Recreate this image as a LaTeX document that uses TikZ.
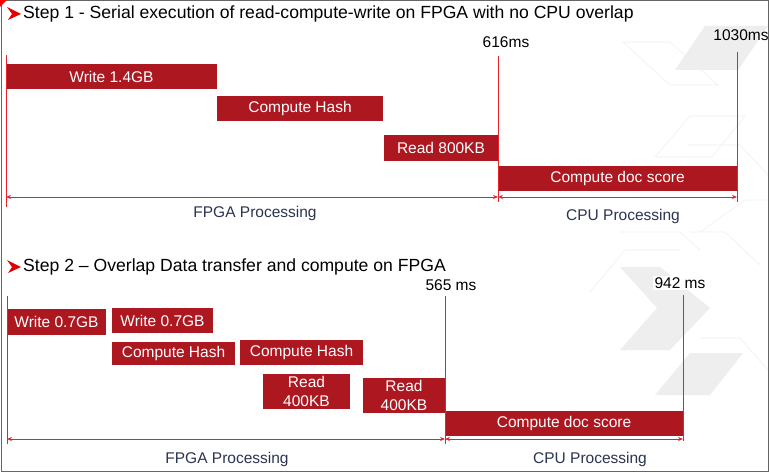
\documentclass[tikz,border=0pt]{standalone}
\usepackage{fontspec}
\setmainfont{Liberation Sans}
\usetikzlibrary{arrows.meta}
\definecolor{barred}{HTML}{AD1720}
\definecolor{linered}{HTML}{E8222A}
\definecolor{navy}{HTML}{2B3452}
\definecolor{bgshape}{HTML}{EEEEEE}
\definecolor{bgline}{HTML}{F0F0F0}
\begin{document}
\begin{tikzpicture}[x=1pt,y=-1pt,
  txt/.style={font=\fontsize{15.5}{17}\selectfont, inner sep=0pt},
  titletxt/.style={font=\fontsize{17.6}{19}\selectfont, inner sep=0pt, text=black},
  bar/.style={txt, fill=barred, text=white, anchor=north west, align=center, outer sep=0pt},
  timelabel/.style={txt, text=black},
  proclabel/.style={txt, text=navy},
  vline/.style={draw=linered, line width=0.9pt},
  span/.style={draw=linered, line width=0.8pt, {Stealth[length=5pt,width=4pt]}-{Stealth[length=5pt,width=4pt]}},
  bullet/.style={fill=red!90!black, draw=none}
]
\useasboundingbox (0,0) rectangle (770,473);
\fill[white] (0,0) rectangle (770,473);
% background decoration
\fill[bgshape] (675,70) -- (705,26) -- (768,26) -- (738,70) -- cycle;
\draw[bgline, line width=0.6pt] (623,42) -- (670,42) -- (718,85) -- (670,85) -- cycle;
\draw[bgline, line width=0.6pt] (655,157) -- (690,116) -- (745,116) -- (712,157) -- cycle;
\draw[bgline, line width=0.6pt] (688,145) -- (740,145) -- (768,175);
\draw[bgline, line width=0.6pt] (700,232) -- (745,200) -- (768,200);
\draw[bgline, line width=0.6pt] (620,232) -- (680,232) -- (700,250);
\fill[bgshape] (620,267) -- (660,267) -- (710,308) -- (670,350) -- (620,350) -- (657,308) -- cycle;
\fill[bgshape] (655,395) -- (690,353) -- (743,353) -- (710,395) -- cycle;
\draw[bgline, line width=0.6pt] (590,292) -- (625,250) -- (680,250);
\draw[bgline, line width=0.6pt] (700,338) -- (740,338) -- (768,370);
\draw[bgline, line width=0.6pt] (690,232) -- (725,232) -- (760,265);
% frame
\draw[gray!80!black, line width=1pt] (1,1) rectangle (768,471);
\fill[red] (0,0) -- (7,0) -- (0,7) -- cycle;

% ---------- Step 1 ----------
\fill[bullet] (7,7) -- (21,14) -- (8,20) -- (12,14) -- cycle;
\node[titletxt, anchor=west] (t1) at (23,14) {Step 1 - Serial execution of read-compute-write on FPGA with no CPU overlap};

\node[bar, minimum width=211pt, minimum height=25pt] (w1) at (6,64) {Write 1.4GB};
\node[bar, minimum width=166pt, minimum height=25pt] (h1) at (217,96) {Compute Hash};
\node[bar, minimum width=114pt, minimum height=26pt] (r1) at (384,135) {Read 800KB};
\node[bar, minimum width=239pt, minimum height=25pt] (c1) at (498,166) {Compute doc score};

\coordinate (a0t) at (6,55);   \coordinate (a0b) at (6,207);
\coordinate (a1t) at (498,56); \coordinate (a1b) at (498,202);
\coordinate (a2t) at (737,52); \coordinate (a2b) at (737,202);
\draw[vline] (a0t) -- (a0b);
\draw[vline] (a1t) -- (a1b);
\draw[vline] (a2t) -- (a2b);
\coordinate (s0) at (6,197); \coordinate (s1) at (498,197); \coordinate (s2) at (737,197);
\draw[span] (s0) -- (s1);
\draw[span] (s1) -- (s2);

\node[timelabel] (m1) at (506,42) {616ms};
\node[timelabel] (m2) at (741,35) {1030ms};
\node[proclabel] (f1) at (255,213) {FPGA Processing};
\node[proclabel] (p1) at (623,216) {CPU Processing};

% ---------- Step 2 ----------
\fill[bullet] (7,260) -- (21,267) -- (8,273) -- (12,267) -- cycle;
\node[titletxt, anchor=west] (t2) at (23,267) {Step 2 – Overlap Data transfer and compute on FPGA};

\node[bar, minimum width=99pt, minimum height=26pt] (w21) at (7,309) {Write 0.7GB};
\node[bar, minimum width=101pt, minimum height=25pt] (w22) at (112,308) {Write 0.7GB};
\node[bar, minimum width=123pt, minimum height=23pt] (h21) at (112,342) {Compute Hash};
\node[bar, minimum width=123pt, minimum height=25pt] (h22) at (240,340) {Compute Hash};
\node[bar, minimum width=87pt, minimum height=35pt, font=\fontsize{15.5}{18.5}\selectfont] (r21) at (263,374) {Read\\400KB};
\node[bar, minimum width=82pt, minimum height=35pt, font=\fontsize{15.5}{18.5}\selectfont] (r22) at (363,378) {Read\\400KB};
\node[bar, minimum width=238pt, minimum height=25pt] (c2) at (445,411) {Compute doc score};

\coordinate (b0t) at (7,296);   \coordinate (b0b) at (7,444);
\coordinate (b1t) at (445,296); \coordinate (b1b) at (445,444);
\coordinate (b2t) at (683,295); \coordinate (b2b) at (683,441);
\draw[vline] (b0t) -- (b0b);
\draw[vline] (b1t) -- (b1b);
\draw[vline] (b2t) -- (b2b);
\coordinate (u0) at (7,439); \coordinate (u1) at (445,439); \coordinate (u2) at (683,439);
\draw[span] (u0) -- (u1);
\draw[span] (u1) -- (u2);

\node[timelabel] (m3) at (451,285) {565 ms};
\node[timelabel, fill=white, inner sep=2pt] (m4) at (680,283) {942 ms};
\node[proclabel] (f2) at (227,459) {FPGA Processing};
\node[proclabel] (p2) at (590,459) {CPU Processing};
\end{tikzpicture}
\end{document}
